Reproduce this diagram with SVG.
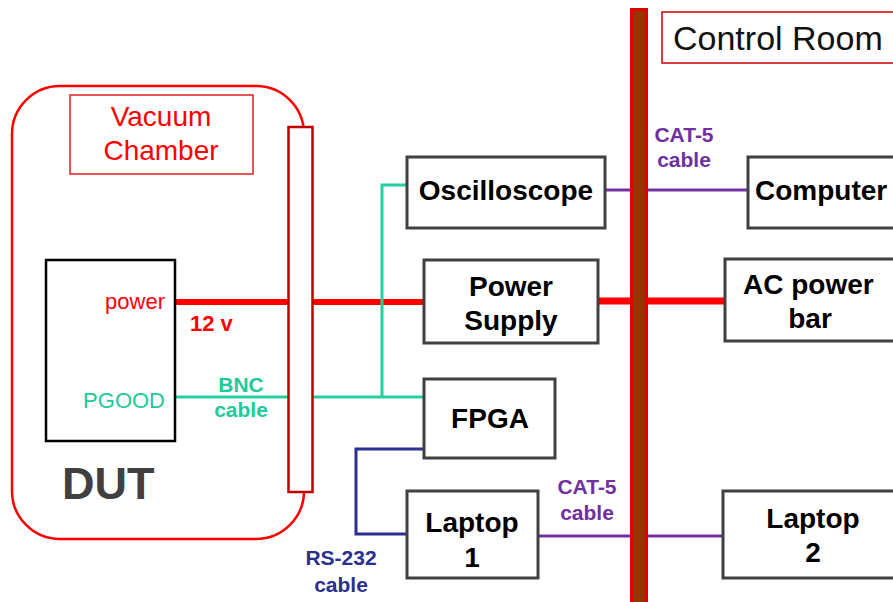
<svg xmlns="http://www.w3.org/2000/svg" width="893" height="602" viewBox="0 0 893 602">
<style>
text{font-family:"Liberation Sans",Arial,sans-serif}
.box{fill:#fff;stroke:#404040;stroke-width:3}
.nl{font-size:28px;font-weight:bold;fill:#000}
.lbl{font-size:21px;font-weight:bold}
.c{text-anchor:middle}
</style>
<rect width="893" height="602" fill="#fff"/>
<g id="vacuum-chamber">
<rect x="12" y="86" width="292" height="453" rx="48" ry="48" fill="none" stroke="#ff0000" stroke-width="2.5"/>
<rect x="70" y="95" width="183" height="79" fill="#fff" stroke="#e02020" stroke-width="1.5"/>
<text x="161" y="126" class="c" font-size="28" fill="#ff0000">Vacuum</text>
<text x="161" y="160" class="c" font-size="28" fill="#ff0000">Chamber</text>
</g>
<g id="connectors">
<line x1="175" y1="302" x2="425" y2="302" stroke="#ff0000" stroke-width="6"/>
<line x1="598" y1="301" x2="725" y2="301" stroke="#ff0000" stroke-width="7"/>
<polyline points="175,397 424,397" fill="none" stroke="#22d0a0" stroke-width="3"/>
<polyline points="382,397 382,185 407,185" fill="none" stroke="#22d0a0" stroke-width="3"/>
<line x1="605" y1="190" x2="748" y2="190" stroke="#7030a0" stroke-width="3"/>
<line x1="538" y1="536" x2="723" y2="536" stroke="#7030a0" stroke-width="3"/>
<polyline points="424,449 356,449 356,534 407,534" fill="none" stroke="#2b2f8f" stroke-width="3"/>
<text x="190" y="331" font-size="22" font-weight="bold" fill="#ff0000">12 v</text>
<text x="241" y="392" class="lbl c" font-size="22" fill="#22c99a">BNC</text>
<text x="241" y="417" class="lbl c" font-size="22" fill="#22c99a">cable</text>
<text x="684" y="142" class="lbl c" fill="#7030a0">CAT-5</text>
<text x="684" y="167" class="lbl c" fill="#7030a0">cable</text>
<text x="587" y="494" class="lbl c" fill="#7030a0">CAT-5</text>
<text x="587" y="520" class="lbl c" fill="#7030a0">cable</text>
<text x="341" y="565" class="lbl c" fill="#2b2f8f">RS-232</text>
<text x="341" y="592" class="lbl c" fill="#2b2f8f">cable</text>
</g>
<g id="feedthrough">
<rect x="288.5" y="127" width="24" height="365" fill="#fff" stroke="#c00000" stroke-width="2.5"/>
</g>
<g id="wall">
<rect x="631.5" y="9.5" width="15" height="600" fill="#993300" stroke="#dd0000" stroke-width="3"/>
</g>
<g id="control-room">
<rect x="662" y="12" width="240" height="51" fill="#fff" stroke="#cc0000" stroke-width="1.5"/>
<text x="673" y="50" font-size="34" fill="#111">Control Room</text>
</g>
<g id="dut">
<rect x="46" y="260" width="129" height="181" fill="#fff" stroke="#000" stroke-width="2.5"/>
<text x="165" y="309" text-anchor="end" font-size="22" fill="#ff0000">power</text>
<text x="165" y="408" text-anchor="end" font-size="22" fill="#22c99a">PGOOD</text>
<text x="62" y="499" font-size="45" font-weight="bold" fill="#404040">DUT</text>
</g>
<g id="oscilloscope">
<rect class="box" x="407" y="157" width="198" height="71"/>
<text x="506" y="200" class="nl c">Oscilloscope</text>
</g>
<g id="power-supply">
<rect class="box" x="424" y="260" width="174" height="83"/>
<text x="511" y="296" class="nl c">Power</text>
<text x="511" y="330" class="nl c">Supply</text>
</g>
<g id="fpga">
<rect class="box" x="424" y="379" width="131" height="79"/>
<text x="490" y="428" class="nl c">FPGA</text>
</g>
<g id="laptop1">
<rect class="box" x="407" y="491" width="131" height="87"/>
<text x="472" y="532" class="nl c">Laptop</text>
<text x="472" y="567" class="nl c">1</text>
</g>
<g id="computer">
<rect class="box" x="748" y="157" width="160" height="71"/>
<text x="755" y="200" class="nl">Computer</text>
</g>
<g id="ac-power-bar">
<rect class="box" x="725" y="259" width="180" height="82"/>
<text x="743" y="294" class="nl">AC power</text>
<text x="810" y="328" class="nl c">bar</text>
</g>
<g id="laptop2">
<rect class="box" x="723" y="491" width="180" height="87"/>
<text x="813" y="528" class="nl c">Laptop</text>
<text x="813" y="562" class="nl c">2</text>
</g>
</svg>
